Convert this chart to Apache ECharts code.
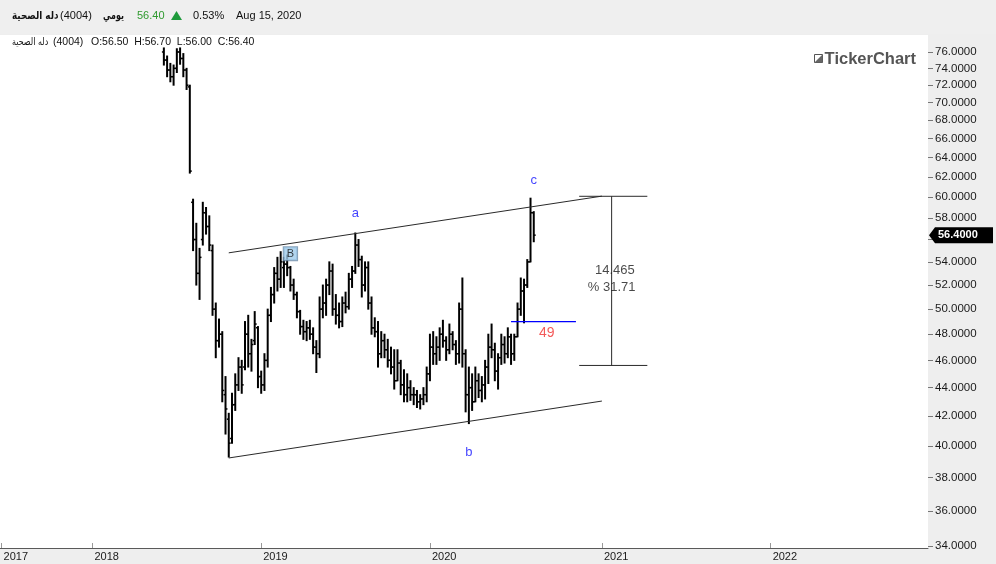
<!DOCTYPE html>
<html>
<head>
<meta charset="utf-8">
<script src="https://cdn.jsdelivr.net/npm/echarts@6/dist/echarts.min.js"></script>
<style>
html,body{margin:0;padding:0;background:#ffffff;}
#c{width:996px;height:564px;}
</style>
</head>
<body>
<div id="c"></div>
<script>
// ---------- data ----------
const axisStartDate = '2017-06-22';   // first weekly slot on the x axis
const axisWeekCount = 286;            // weekly slots through late 2022
const dataStartDate = '2018-06-07';   // first visible weekly bar

const weekOpen = [
  76.0,75.0,73.8,73.0,74.0,76.0,75.2,73.8,71.8,59.5,
  56.0,53.0,56.0,58.5,57.2,55.0,50.0,47.5,48.0,43.5,
  41.8,40.5,42.8,44.2,45.5,45.5,48.0,46.5,47.5,48.5,
  44.8,44.2,46.0,49.5,51.2,53.0,52.5,53.5,53.8,53.5,
  52.0,51.2,49.8,48.6,48.2,48.5,48.0,47.0,46.5,50.0,
  50.5,52.0,53.2,50.0,49.5,49.0,50.5,50.2,52.5,53.2,
  55.5,54.2,52.0,53.5,50.5,48.5,48.2,46.5,47.5,46.8,
  46.0,45.5,44.5,45.8,44.2,43.5,44.0,43.5,43.5,43.0,
  43.2,43.5,45.0,47.0,46.5,47.0,48.0,47.5,46.8,48.0,
  47.2,46.5,50.0,46.5,43.5,44.0,43.0,44.5,43.8,44.2,
  45.5,47.0,46.8,45.2,46.2,47.2,46.5,47.8,46.5,47.8,
  50.0,51.5,52.0,54.0,58.5
];
const weekHigh = [
  76.5,75.5,74.6,74.4,76.4,76.5,75.8,74.0,72.0,59.8,
  57.5,55.2,59.5,59.0,58.2,55.5,50.5,49.2,48.2,44.8,
  42.2,43.6,45.0,46.2,46.0,49.0,49.5,47.6,49.8,48.6,
  45.2,46.5,50.0,51.8,53.5,54.4,54.9,54.4,54.6,53.6,
  52.5,51.4,49.9,49.1,49.0,49.1,48.5,47.5,51.0,52.0,
  52.5,54.0,53.8,51.2,50.5,51.0,51.4,53.0,53.6,56.6,
  56.0,54.5,54.0,54.0,51.0,49.3,49.0,48.2,48.0,47.6,
  47.0,46.8,46.8,46.0,45.3,45.0,44.5,44.0,43.8,43.5,
  44.0,45.5,48.0,48.2,47.8,48.5,49.1,47.8,48.8,48.2,
  47.5,50.5,52.6,46.8,45.5,45.0,45.5,45.0,44.8,46.0,
  48.0,48.8,47.3,46.5,48.0,47.8,48.5,48.0,48.0,50.5,
  52.6,52.5,54.2,59.9,58.6
];
const weekLow = [
  74.4,73.0,72.4,72.0,73.5,74.5,73.0,71.5,62.4,55.0,
  52.0,50.8,55.5,56.5,55.0,49.5,46.2,47.0,43.0,40.8,
  39.3,40.2,42.4,43.8,43.6,45.3,45.5,45.2,47.2,44.0,
  43.6,43.8,45.5,49.0,50.5,51.5,51.8,51.8,52.8,51.5,
  50.8,49.3,48.0,47.6,47.5,47.6,46.5,45.1,46.2,49.3,
  49.5,51.2,49.5,48.8,48.5,48.6,49.7,50.0,51.8,53.0,
  53.6,51.0,51.5,50.0,48.0,47.8,45.5,46.2,46.2,45.5,
  45.0,43.9,44.5,43.5,43.0,43.0,43.1,42.8,42.6,42.5,
  42.8,43.0,44.5,45.7,45.7,46.0,47.0,46.0,46.5,46.8,
  45.7,45.8,45.5,42.3,41.5,42.4,43.0,43.3,43.0,43.2,
  44.3,46.2,44.5,43.9,45.7,45.8,46.2,45.7,46.0,47.8,
  49.5,48.9,51.8,54.0,55.8
];
const weekClose = [
  75.0,73.8,73.0,74.0,76.0,75.2,73.8,72.0,62.6,56.0,
  53.0,54.4,58.5,57.2,55.5,50.0,47.5,48.0,43.8,42.5,
  40.2,42.8,44.2,45.5,44.2,48.0,46.5,47.2,48.8,44.8,
  44.2,46.0,49.5,51.2,53.0,52.5,54.0,53.8,53.5,52.0,
  51.2,49.8,48.6,48.2,48.5,48.0,47.0,46.5,50.0,50.5,
  52.0,53.2,50.0,49.5,49.0,50.5,50.2,52.5,53.2,55.5,
  54.2,52.0,53.5,50.5,48.5,48.2,46.5,47.5,46.8,46.0,
  45.5,44.5,45.8,44.2,43.5,44.0,43.5,43.5,43.0,43.2,
  43.5,45.0,47.0,46.5,47.0,48.0,47.5,46.8,48.0,47.2,
  46.5,50.0,46.5,43.5,44.0,43.0,44.5,43.8,44.2,45.5,
  47.0,46.8,45.2,46.2,47.2,46.5,47.8,46.5,47.8,50.0,
  51.5,52.0,54.0,58.5,56.4
];

const yTickValues = [34,36,38,40,42,44,46,48,50,52,54,56,58,60,62,64,66,68,70,72,74,76];
const yMinPrice = 33.89;
const yMaxPrice = 78.13;

const lastDay = [56.50, 56.70, 56.00, 56.40];   // O H L C
const prevClose = 56.10;
const quoteDate = 'Aug 15, 2020';
const stockName = 'دله الصحية';
const stockCode = '(4004)';
const periodName = 'يومي';

const upperChannel = [['2018-10-25', 54.8], ['2021-01-07', 60.1]];
const lowerChannel = [['2018-10-25', 39.24], ['2021-01-07', 43.05]];
const measureLow = 45.62, measureHigh = 60.085;
const measureFrom = '2020-11-19', measureTo = '2021-04-15', measureAt = '2021-01-28';
const level49 = [['2020-06-25', 49], ['2020-11-12', 49]];
const waveLabels = [
  {text: 'a', date: '2019-07-25', price: 58.45},
  {text: 'b', date: '2020-03-26', price: 39.62},
  {text: 'c', date: '2020-08-13', price: 61.7}
];
const boxLabel = {text: 'B', date: '2019-03-07', price: 54.73};
const levelLabel = {text: '49', date: '2020-09-10', price: 48.12};
const measureTextPos = [['2021-02-04', 53.23], ['2021-01-28', 51.84]];

// ---------- helpers ----------
const DAY = 86400000;
const t0 = Date.parse(axisStartDate + 'T00:00:00Z');
function wk(d) { return Math.round((Date.parse(d + 'T00:00:00Z') - t0) / (7 * DAY)); }
function fmt(t) { return new Date(t).toISOString().slice(0, 10); }
const categories = [];
for (let k = 0; k < axisWeekCount; k++) categories.push(fmt(t0 + k * 7 * DAY));
const L = Math.log;
const firstIdx = wk(dataStartDate);

const ohlcData = weekOpen.map((o, j) => [firstIdx + j, L(o), L(weekHigh[j]), L(weekLow[j]), L(weekClose[j])]);
function linePts(arr) { return arr.map(p => [wk(p[0]), L(p[1])]); }

const FONT = 'Arial, "Liberation Sans", "DejaVu Sans", sans-serif';

function isYearStart(index) {
  return index === 0 || categories[index].slice(0, 4) !== categories[index - 1].slice(0, 4);
}

const chart = echarts.init(document.getElementById('c'));

const measureDiff = measureHigh - measureLow;
const measurePct = measureDiff / measureLow * 100;

const textItems = [];
waveLabels.forEach(w => textItems.push({
  value: [wk(w.date), L(w.price)],
  label: {formatter: w.text, color: '#1010ff', fontSize: 13}
}));
textItems.push({
  value: [wk(boxLabel.date), L(boxLabel.price)],
  label: {formatter: boxLabel.text, color: '#111', fontSize: 11, backgroundColor: '#9fcbea',
          borderColor: '#6a8aa6', borderWidth: 1, padding: [1, 3, 0, 3], lineHeight: 12}
});
textItems.push({
  value: [wk(levelLabel.date), L(levelLabel.price)],
  label: {formatter: levelLabel.text, color: '#f03030', fontSize: 14}
});
textItems.push({
  value: [wk(measureTextPos[0][0]), L(measureTextPos[0][1])],
  label: {formatter: measureDiff.toFixed(3), color: '#1a1a1a', fontSize: 13}
});
textItems.push({
  value: [wk(measureTextPos[1][0]), L(measureTextPos[1][1])],
  label: {formatter: '% ' + measurePct.toFixed(2), color: '#1a1a1a', fontSize: 13}
});

const blackLine = {color: '#2a2a2a', width: 1};

const option = {
  animation: false,
  backgroundColor: '#eeeeee',
  grid: {left: 0, right: 68, top: 35, bottom: 16, show: true, backgroundColor: '#ffffff', borderWidth: 0},
  xAxis: {
    type: 'category',
    data: categories,
    boundaryGap: true,
    axisLine: {show: true, lineStyle: {color: '#5a5a5a', width: 1}},
    axisTick: {show: true, inside: true, length: 5, alignWithLabel: true,
               interval: (i) => isYearStart(i), lineStyle: {color: '#999'}},
    axisLabel: {show: true, interval: (i) => isYearStart(i), formatter: v => v.slice(0, 4),
                align: 'left', padding: [0, 0, 0, 2], margin: 3, color: '#1a1a1a', fontSize: 11, fontFamily: FONT},
    splitLine: {show: false}
  },
  yAxis: {
    type: 'value',
    position: 'right',
    min: L(yMinPrice),
    max: L(yMaxPrice),
    axisLine: {show: false},
    axisTick: {show: true, length: 5, customValues: yTickValues.map(L), lineStyle: {color: '#777'}},
    axisLabel: {show: true, customValues: yTickValues.map(L), margin: 7,
                formatter: v => Math.exp(v).toFixed(4), color: '#1a1a1a', fontSize: 11.5, fontFamily: FONT},
    splitLine: {show: false}
  },
  series: [
    {
      type: 'custom',
      name: 'ohlc',
      data: ohlcData,
      encode: {x: 0, y: [1, 2, 3, 4]},
      clip: true,
      renderItem: function (params, api) {
        const x = api.value(0);
        const o = api.coord([x, api.value(1)]);
        const h = api.coord([x, api.value(2)]);
        const l = api.coord([x, api.value(3)]);
        const c = api.coord([x, api.value(4)]);
        const w = api.size([1, 0])[0];
        const tk = w * 0.6;
        const stV = {stroke: '#000', lineWidth: 2};
        const stT = {stroke: '#000', lineWidth: 1.5};
        return {type: 'group', children: [
          {type: 'line', shape: {x1: h[0], y1: h[1] - 0.5, x2: l[0], y2: l[1] + 0.5}, style: stV},
          {type: 'line', shape: {x1: o[0] - tk, y1: o[1], x2: o[0], y2: o[1]}, style: stT},
          {type: 'line', shape: {x1: c[0], y1: c[1], x2: c[0] + tk, y2: c[1]}, style: stT}
        ]};
      },
      z: 3
    },
    {type: 'line', data: linePts(upperChannel), symbol: 'none', lineStyle: blackLine, silent: true, z: 4},
    {type: 'line', data: linePts(lowerChannel), symbol: 'none', lineStyle: blackLine, silent: true, z: 4},
    {type: 'line', data: [[wk(measureFrom), L(measureHigh)], [wk(measureTo), L(measureHigh)]], symbol: 'none', lineStyle: blackLine, silent: true, z: 4},
    {type: 'line', data: [[wk(measureFrom), L(measureLow)], [wk(measureTo), L(measureLow)]], symbol: 'none', lineStyle: blackLine, silent: true, z: 4},
    {type: 'line', data: [[wk(measureAt), L(measureHigh)], [wk(measureAt), L(measureLow)]], symbol: 'none', lineStyle: blackLine, silent: true, z: 4},
    {type: 'line', data: linePts(level49), symbol: 'none', lineStyle: {color: '#0000ff', width: 1.2}, silent: true, z: 4},
    {
      type: 'scatter',
      data: textItems,
      symbol: 'circle',
      symbolSize: 1,
      itemStyle: {color: 'rgba(0,0,0,0)'},
      label: {show: true, position: 'inside', fontFamily: FONT},
      silent: true,
      z: 6
    }
  ]
};

chart.setOption(option);

// header, legend line, logo, last price tag
const pctChange = (lastDay[3] - prevClose) / prevClose * 100;
const lastY = chart.convertToPixel({yAxisIndex: 0}, L(lastDay[3]));
const gridRight = 996 - 68;
const hdrY = 16, legY = 42;
const hdrFont = '11px ' + FONT;
const legFont = '10.5px ' + FONT;
const arFont = '"DejaVu Sans", Arial, sans-serif';

chart.setOption({
  graphic: {elements: [
    {id: 'hdrbg', type: 'rect', shape: {x: 0, y: 0, width: 996, height: 34}, style: {fill: '#efefef'}, z: 100},
    {id: 'h1', type: 'text', x: 12, y: hdrY, scaleX: 0.8, style: {text: stockName, font: 'bold 11px ' + arFont, fill: '#111', textVerticalAlign: 'middle'}, z: 101},
    {id: 'h2', type: 'text', x: 60, y: hdrY, style: {text: stockCode, font: hdrFont, fill: '#111', textVerticalAlign: 'middle'}, z: 101},
    {id: 'h3', type: 'text', x: 103, y: hdrY, scaleX: 0.72, style: {text: periodName, font: 'bold 11px ' + arFont, fill: '#111', textVerticalAlign: 'middle'}, z: 101},
    {id: 'h4', type: 'text', x: 137, y: hdrY, style: {text: lastDay[3].toFixed(2), font: hdrFont, fill: '#2f9a2f', textVerticalAlign: 'middle'}, z: 101},
    {id: 'h5', type: 'polygon', shape: {points: [[171, 20], [182, 20], [176.5, 11]]}, style: {fill: '#1e9a3c'}, z: 101},
    {id: 'h6', type: 'text', x: 193, y: hdrY, style: {text: pctChange.toFixed(2) + '%', font: hdrFont, fill: '#111', textVerticalAlign: 'middle'}, z: 101},
    {id: 'h7', type: 'text', x: 236, y: hdrY, style: {text: quoteDate, font: hdrFont, fill: '#111', textVerticalAlign: 'middle'}, z: 101},

    {id: 'l1', type: 'text', x: 12, y: legY, scaleX: 0.8, style: {text: stockName, font: '10px ' + arFont, fill: '#111', textVerticalAlign: 'middle'}, z: 101},
    {id: 'l2', type: 'text', x: 53, y: legY, style: {text: stockCode, font: legFont, fill: '#111', textVerticalAlign: 'middle'}, z: 101},
    {id: 'l3', type: 'text', x: 91, y: legY, style: {
      text: 'O:' + lastDay[0].toFixed(2) + '  H:' + lastDay[1].toFixed(2) + '  L:' + lastDay[2].toFixed(2) + '  C:' + lastDay[3].toFixed(2),
      font: legFont, fill: '#111', textVerticalAlign: 'middle'}, z: 101},

    {id: 'logoBox', type: 'rect', shape: {x: 814.5, y: 54.5, width: 8, height: 8}, style: {fill: '#fff', stroke: '#555', lineWidth: 1}, z: 101},
    {id: 'logoTri', type: 'polygon', shape: {points: [[822.5, 54.5], [822.5, 62.5], [814.5, 62.5]]}, style: {fill: '#666'}, z: 101},
    {id: 'logoTxt', type: 'text', x: 916, y: 59, style: {text: 'TickerChart', font: 'bold 16.5px ' + FONT, fill: '#555555', textAlign: 'right', textVerticalAlign: 'middle'}, z: 101},

    {id: 'tagBg', type: 'polygon', shape: {points: [[gridRight + 1, lastY], [gridRight + 7, lastY - 8], [993, lastY - 8], [993, lastY + 8], [gridRight + 7, lastY + 8]]},
      style: {fill: '#000'}, z: 101},
    {id: 'tagTxt', type: 'text', x: 938, y: lastY, style: {text: lastDay[3].toFixed(4), font: 'bold 11px ' + FONT, fill: '#fff', textVerticalAlign: 'middle'}, z: 102}
  ]}
});
</script>
</body>
</html>
